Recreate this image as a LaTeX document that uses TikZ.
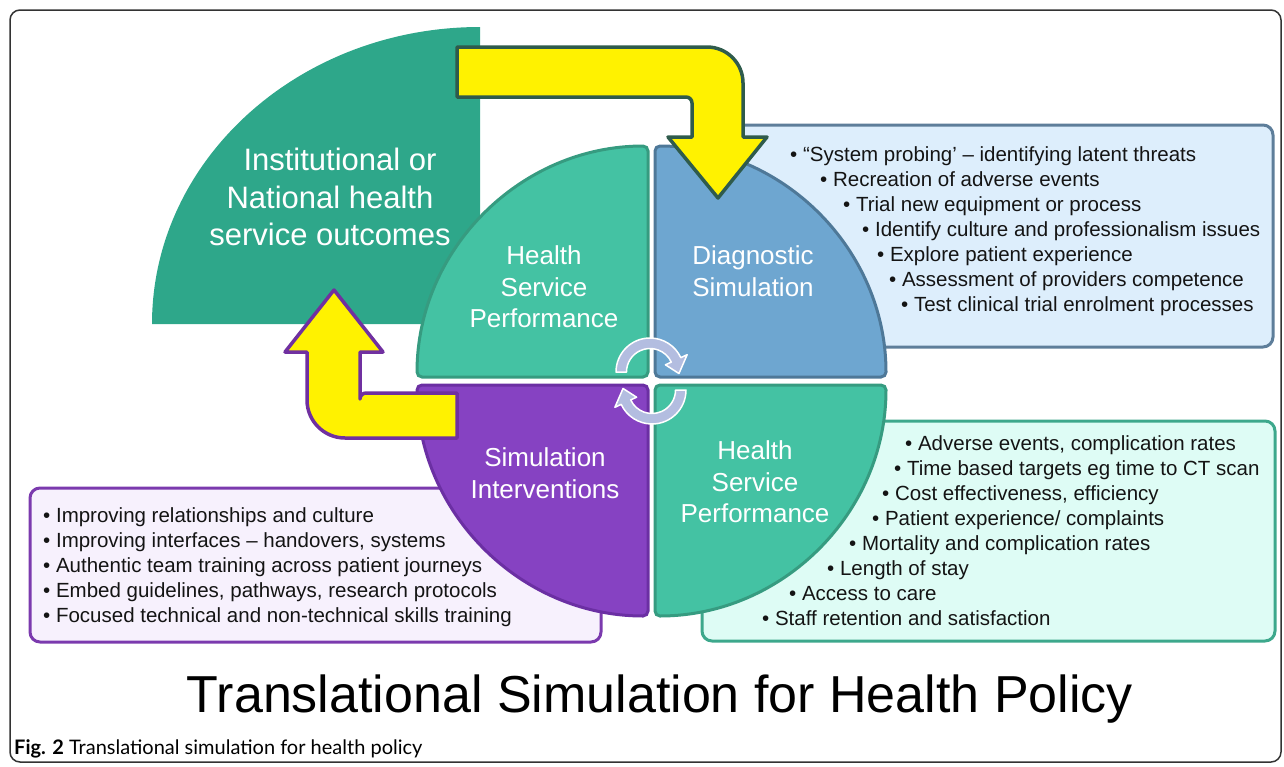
\documentclass[tikz,border=0pt]{standalone}
\usepackage{fontspec}
\setmainfont{Liberation Sans}
\newfontfamily\capfont{Lato}
\definecolor{outc}{HTML}{2EA78A}
\definecolor{teal}{HTML}{44C2A3}
\definecolor{tealb}{HTML}{369B80}
\definecolor{blueq}{HTML}{6EA6D0}
\definecolor{blueb}{HTML}{4E7898}
\definecolor{purq}{HTML}{8642C2}
\definecolor{purb}{HTML}{6B2FA3}
\definecolor{yel}{HTML}{FFF200}
\definecolor{arrg}{HTML}{2F5B4C}
\definecolor{arrp}{HTML}{7030A0}
\definecolor{diagf}{HTML}{DDEEFC}
\definecolor{diagb}{HTML}{5E7E9A}
\definecolor{simf}{HTML}{F7F1FD}
\definecolor{simb}{HTML}{7B3AAE}
\definecolor{perff}{HTML}{DEFCF5}
\definecolor{perfb}{HTML}{3DA88C}
\definecolor{lav}{HTML}{B3BDE0}
\definecolor{frame}{HTML}{333333}
\tikzset{
  quad/.style={line width=3, rounded corners=5},
  tbox/.style={line width=3, rounded corners=10},
  bul/.style={anchor=base west, inner sep=0, font=\fontsize{20.5}{25}\selectfont, text=black!92},
  qlabel/.style={align=center, text=white, inner sep=0, font=\fontsize{26}{31.5}\selectfont},
  yarrow/.style={fill=yel, line width=3.5, line join=round},
  cyc/.style={fill=lav, draw=white, line width=1.5, line join=round}
}
\begin{document}
\begin{tikzpicture}[x=1pt,y=1pt]
\useasboundingbox (0,0) rectangle (1284,-766);
% outer frame
\draw[frame, line width=1.5, rounded corners=10] (10,-10) rectangle (1281,-762);
% outcome shape
\fill[outc] (152,-324) arc[start angle=180, end angle=90, x radius=328, y radius=297] -- (480,-324) -- cycle;
% text boxes
\draw[tbox, fill=diagf, draw=diagb] (700,-125) rectangle (1273,-347);
\draw[tbox, fill=simf, draw=simb] (30,-488) rectangle (601,-642);
\draw[tbox, fill=perff, draw=perfb] (702,-421) rectangle (1275,-641);
% quadrants
\draw[quad, fill=teal, draw=tealb] (648,-377) -- (417,-377) arc[start angle=180, end angle=90, radius=231] -- cycle;
\draw[quad, fill=blueq, draw=blueb] (655,-377) -- (655,-146) arc[start angle=90, end angle=0, radius=231] -- cycle;
\draw[quad, fill=purq, draw=purb] (648,-385) -- (648,-616) arc[start angle=270, end angle=180, radius=231] -- cycle;
\draw[quad, fill=teal, draw=tealb] (655,-385) -- (886,-385) arc[start angle=0, end angle=-90, radius=231] -- cycle;
% labels
\node[qlabel, font=\fontsize{31}{37.5}\selectfont] (outcome) at (330,-197) {\hspace*{20pt}Institutional or\\National health\\service outcomes};
\node[qlabel] (hsp1) at (544,-287) {Health\\Service\\Performance};
\node[qlabel] (diag) at (753,-271) {Diagnostic\\Simulation};
\node[qlabel] (simint) at (545,-473) {Simulation\\Interventions};
\node[qlabel] (hsp2) at (755,-482) {Health\\Service\\Performance};
% yellow arrows
\draw[yarrow, draw=arrg] (457,-47) -- (707,-47) arc[start angle=90, end angle=0, radius=36] -- (743,-137) -- (767,-137) -- (718,-198) -- (668,-137) -- (692,-137) -- (692,-103) arc[start angle=0, end angle=90, radius=6] -- (457,-97) -- cycle;
\draw[yarrow, draw=arrp] (457,-393) -- (366,-393) arc[start angle=90, end angle=180, radius=6] -- (360,-352) -- (383,-352) -- (334,-290) -- (285,-352) -- (307,-352) -- (307,-400) arc[start angle=180, end angle=270, radius=38] -- (457,-438) -- cycle;
% cycle arrows
\path[cyc] ([shift={(180:34)}]650,-372) arc[start angle=180, end angle=25, radius=34] -- ([shift={(25:41)}]650,-372) -- ([shift={(-3:29)}]650,-372) -- ([shift={(25:17)}]650,-372) -- ([shift={(25:23.5)}]650,-372) arc[start angle=25, end angle=180, radius=23.5] -- cycle;
\begin{scope}[rotate around={180:(651,-381)}]
\path[cyc] ([shift={(180:34)}]650,-372) arc[start angle=180, end angle=25, radius=34] -- ([shift={(25:41)}]650,-372) -- ([shift={(-3:29)}]650,-372) -- ([shift={(25:17)}]650,-372) -- ([shift={(25:23.5)}]650,-372) arc[start angle=25, end angle=180, radius=23.5] -- cycle;
\end{scope}
% diagnostic bullets
\node[bul] (d1) at (790,-161) {• “System probing’ – identifying latent threats};
\node[bul] (d2) at (820,-186) {• Recreation of adverse events};
\node[bul] (d3) at (843,-211) {• Trial new equipment or process};
\node[bul] (d4) at (862,-236) {• Identify culture and professionalism issues};
\node[bul] (d5) at (877,-261) {• Explore patient experience};
\node[bul] (d6) at (889,-286) {• Assessment of providers competence};
\node[bul] (d7) at (901,-311) {• Test clinical trial enrolment processes};
% performance bullets
\node[bul] (p1) at (905,-450) {• Adverse events, complication rates};
\node[bul] (p2) at (894,-475) {• Time based targets eg time to CT scan};
\node[bul] (p3) at (882,-500) {• Cost effectiveness, efficiency};
\node[bul] (p4) at (872,-525) {• Patient experience/ complaints};
\node[bul] (p5) at (849,-550) {• Mortality and complication rates};
\node[bul] (p6) at (827,-575) {• Length of stay};
\node[bul] (p7) at (789,-600) {• Access to care};
\node[bul] (p8) at (762,-625) {• Staff retention and satisfaction};
% intervention bullets
\node[bul] (s1) at (43,-522) {• Improving relationships and culture};
\node[bul] (s2) at (43,-547) {• Improving interfaces – handovers, systems};
\node[bul] (s3) at (43,-572) {• Authentic team training across patient journeys};
\node[bul] (s4) at (43,-597) {• Embed guidelines, pathways, research protocols};
\node[bul] (s5) at (43,-622) {• Focused technical and non-technical skills training};
% title and caption
\node[anchor=base, inner sep=0, font=\fontsize{52}{60}\selectfont] (title) at (660,-712) {Translational Simulation for Health Policy};
\node[anchor=base west, inner sep=0, font=\capfont\fontsize{20}{24}\selectfont] (caption) at (14,-754) {\textbf{Fig. 2} Translational simulation for health policy};
\end{tikzpicture}
\end{document}
